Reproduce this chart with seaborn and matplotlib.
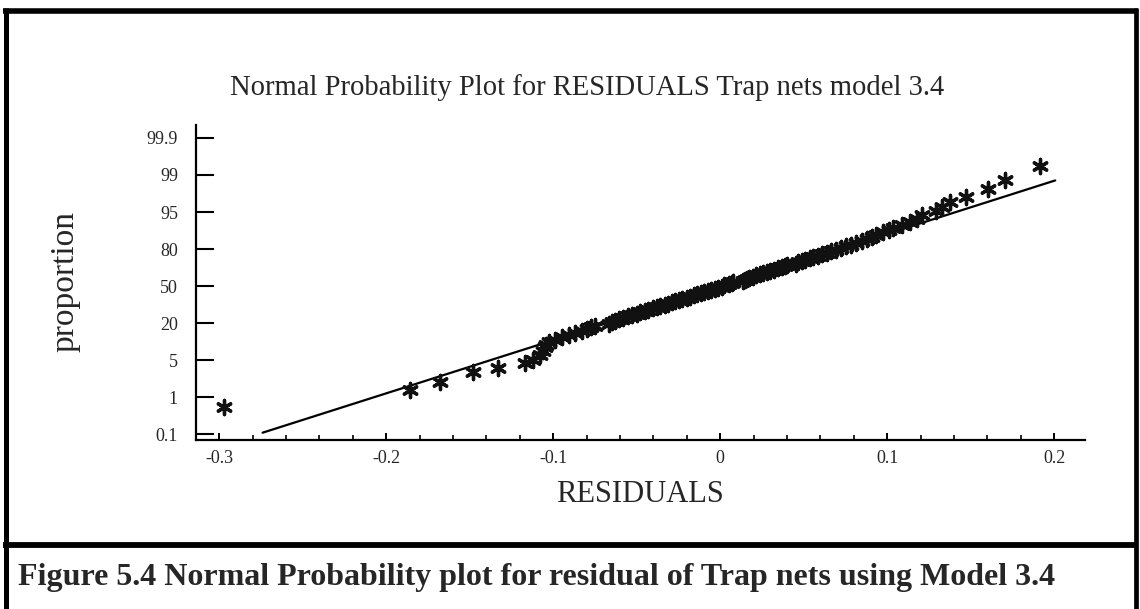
import numpy as np
import pandas as pd
import matplotlib
matplotlib.use("Agg")
import matplotlib.pyplot as plt
from matplotlib.ticker import MultipleLocator, FixedLocator, FixedFormatter
from matplotlib.lines import Line2D
import seaborn as sns
from statistics import NormalDist

# ---------------- data ----------------
title = "Normal Probability Plot for RESIDUALS Trap nets model 3.4"
x_label = "RESIDUALS"
y_label = "proportion"
caption = "Figure 5.4 Normal Probability plot for residual of Trap nets using Model 3.4"

prob_ticks = [0.1, 1, 5, 20, 50, 80, 95, 99, 99.9]
prob_tick_labels = ["0.1", "1", "5", "20", "50", "80", "95", "99", "99.9"]
x_ticks = [-0.3, -0.2, -0.1, 0, 0.1, 0.2]
x_tick_labels = ["-0.3", "-0.2", "-0.1", "0", "0.1", "0.2"]

residuals = [
    -0.297, -0.186, -0.168, -0.148, -0.133, -0.117,
    -0.112, -0.108, -0.106, -0.105, -0.104,
    -0.1025, -0.0990, -0.0950, -0.0905, -0.0870, -0.0830, -0.0795, -0.0772,
    -0.0748, -0.0668, -0.0650, -0.0630, -0.0605, -0.0580, -0.0550, -0.0528,
    -0.0500, -0.0478, -0.0450, -0.0430, -0.0402, -0.0380, -0.0360, -0.0333,
    -0.0315, -0.0290, -0.0270, -0.0245, -0.0226, -0.0200, -0.0182, -0.0158,
    -0.0140, -0.0117, -0.0098, -0.0074, -0.0057, -0.0033, -0.0016, 0.0008,
    0.0025, 0.0050, 0.0068, 0.0075, 0.0135, 0.0148, 0.0160, 0.0175, 0.0195,
    0.0213, 0.0238, 0.0256, 0.0281, 0.0300, 0.0325, 0.0345, 0.0370, 0.0388,
    0.0402, 0.0455, 0.0468, 0.0487, 0.0508, 0.0536, 0.0558, 0.0586, 0.0610,
    0.0640, 0.0665, 0.0695, 0.0724, 0.0752, 0.0785, 0.0815, 0.0850, 0.0880,
    0.0910,
    0.0935, 0.0975, 0.1010, 0.1036, 0.1090, 0.1138, 0.1180, 0.1210, 0.1290,
    0.1329, 0.1377, 0.1473, 0.1605, 0.1707, 0.1916,
]
proportion = [
    0.57, 1.4, 2.0, 3.1, 3.7, 4.5,
    5.0, 6.2, 7.5, 8.5, 9.5,
    10.5, 11.5, 12.5, 13.5, 14.5, 15.5, 16.5, 17.5,
    18.5, 19.5, 20.5, 21.5, 22.5, 23.5, 24.5, 25.5,
    26.5, 27.5, 28.5, 29.5, 30.5, 31.5, 32.5, 33.5,
    34.5, 35.5, 36.5, 37.5, 38.5, 39.5, 40.5, 41.5,
    42.5, 43.5, 44.5, 45.5, 46.5, 47.5, 48.5, 49.5,
    50.5, 51.5, 52.5, 53.5, 54.5, 55.5, 56.5, 57.5, 58.5,
    59.5, 60.5, 61.5, 62.5, 63.5, 64.5, 65.5, 66.5, 67.5,
    68.5, 69.5, 70.5, 71.5, 72.5, 73.5, 74.5, 75.5, 76.5,
    77.5, 78.5, 79.5, 80.5, 81.5, 82.5, 83.5, 84.5, 85.5,
    86.5,
    87.5, 88.5, 89.4, 90.3, 91.3, 92.3, 93.3, 94.3, 95.2,
    95.9, 96.6, 97.3, 98.1, 98.7, 99.4,
]
fit_residuals = [-0.274, 0.2006]
fit_proportion = [0.11, 98.7]

# ---------------- scale (probability axis, evenly spaced labelled levels) ----------------
_nd = NormalDist()


def _inv(p):
    return _nd.inv_cdf(p) if 0.0 < p < 1.0 else np.nan


_ppf = np.vectorize(_inv, otypes=[float])
_cdf = np.vectorize(lambda z: _nd.cdf(z) if np.isfinite(z) else np.nan, otypes=[float])
Z_T = np.array([_nd.inv_cdf(p / 100.0) for p in prob_ticks])
POS = np.arange(len(Z_T), dtype=float)


def fwd(p):
    p = np.clip(np.asarray(p, dtype=float) / 100.0, 1e-12, 1 - 1e-12)
    z = _ppf(p)
    pos = np.interp(z, Z_T, POS)
    pos = np.where(z < Z_T[0], (z - Z_T[0]) / (Z_T[1] - Z_T[0]), pos)
    pos = np.where(z > Z_T[-1], POS[-1] + (z - Z_T[-1]) / (Z_T[-1] - Z_T[-2]), pos)
    return pos


def inv(pos):
    pos = np.asarray(pos, dtype=float)
    z = np.interp(pos, POS, Z_T)
    z = np.where(pos < 0, Z_T[0] + pos * (Z_T[1] - Z_T[0]), z)
    z = np.where(pos > POS[-1], Z_T[-1] + (pos - POS[-1]) * (Z_T[-1] - Z_T[-2]), z)
    return _cdf(z) * 100.0


# ---------------- figure ----------------
sns.set_style("white")
plt.rcParams["font.family"] = ["Liberation Serif", "DejaVu Serif"]
plt.rcParams["axes.unicode_minus"] = False

fig = plt.figure(figsize=(11.4, 6.09), dpi=100)
fig.patch.set_facecolor("white")

ax = fig.add_axes([0.172, 0.2775, 0.780, 0.5172])
ax.set_facecolor("white")
ax.set_yscale("function", functions=(fwd, inv))

pts = pd.DataFrame({"RESIDUALS": residuals, "proportion": proportion})
fit = pd.DataFrame({"RESIDUALS": fit_residuals, "proportion": fit_proportion})

sns.lineplot(data=fit, x="RESIDUALS", y="proportion", ax=ax, color="black",
             linewidth=1.6, sort=False, zorder=2)
sns.scatterplot(data=pts, x="RESIDUALS", y="proportion", ax=ax, marker=(6, 2, 0),
                s=105, color="#111111", edgecolor="#111111", linewidth=2.4, zorder=3)

ax.set_xlim(-0.3138, 0.2186)
ax.set_ylim(float(inv(-0.16)), float(inv(8.35)))

ax.xaxis.set_major_locator(FixedLocator(x_ticks))
ax.xaxis.set_major_formatter(FixedFormatter(x_tick_labels))
ax.xaxis.set_minor_locator(MultipleLocator(0.02))
ax.yaxis.set_major_locator(FixedLocator(prob_ticks))
ax.yaxis.set_major_formatter(FixedFormatter(prob_tick_labels))
ax.yaxis.set_minor_locator(FixedLocator([]))

ax.tick_params(axis="x", which="major", direction="in", length=5, width=1.4,
               labelsize=13, pad=7, color="black", bottom=True)
ax.tick_params(axis="x", which="minor", direction="in", length=3.5, width=1.2,
               color="black", bottom=True)
ax.tick_params(axis="y", which="major", direction="in", length=13, width=1.5,
               labelsize=13, pad=13, color="black", left=True)

for side in ["top", "right"]:
    ax.spines[side].set_visible(False)
for side in ["left", "bottom"]:
    ax.spines[side].set_color("black")
    ax.spines[side].set_linewidth(1.6)

ax.set_xlabel("")
ax.set_ylabel("")

W, H = 1140.0, 609.0
fig.text(587 / W, 1 - 88 / H, title, ha="center", va="center", fontsize=20.6)
fig.text(640 / W, 1 - 495 / H, x_label, ha="center", va="center", fontsize=22)
fig.text(65 / W, 1 - 281 / H, y_label, ha="center", va="center", rotation=90, fontsize=24)
fig.text(18 / W, 1 - 578 / H, caption, ha="left", va="center", fontsize=23,
         fontweight="bold")

# outer frame
def hline(y, x0, x1, lw):
    fig.add_artist(Line2D([x0 / W, x1 / W], [1 - y / H, 1 - y / H], color="black",
                          linewidth=lw, transform=fig.transFigure, solid_capstyle="butt"))


def vline(x, y0, y1, lw):
    fig.add_artist(Line2D([x / W, x / W], [1 - y0 / H, 1 - y1 / H], color="black",
                          linewidth=lw, transform=fig.transFigure, solid_capstyle="butt"))


hline(10.5, 3, 1138, 4)
hline(545, 3, 1138, 4.2)
vline(5.5, 8, 609, 3.6)
vline(1135.5, 8, 609, 3.4)

fig.savefig("out.png", dpi=100, facecolor="white")
